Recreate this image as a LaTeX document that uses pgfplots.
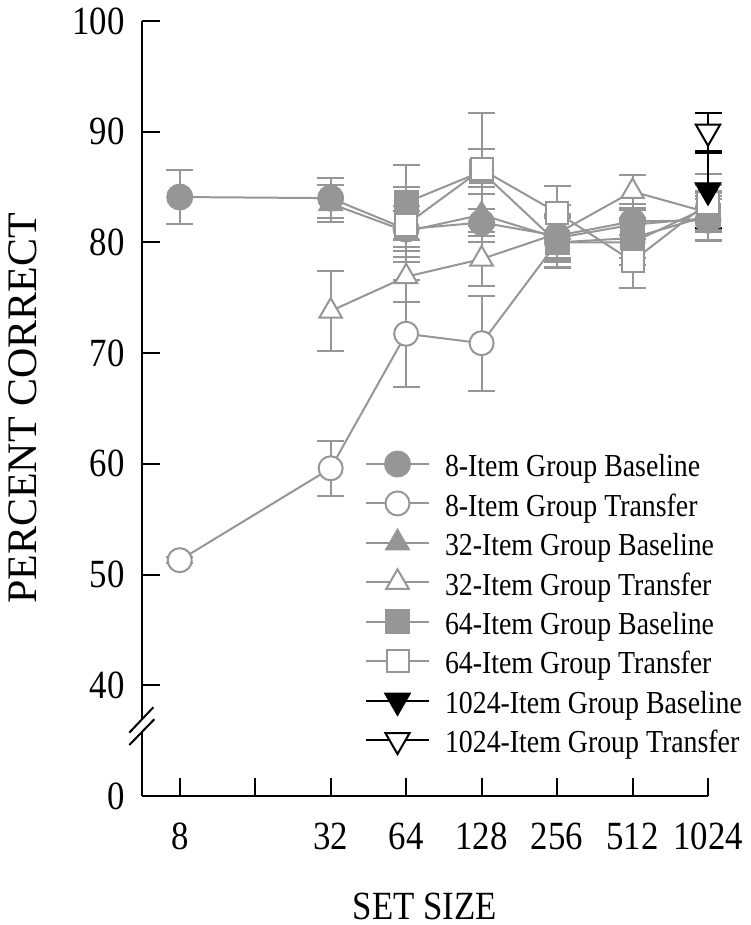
\documentclass[border=0pt]{standalone}
\usepackage{fontspec}
\setmainfont{Liberation Serif}[FakeStretch=0.87]
\newfontfamily\ylabfont{Liberation Serif}
\usepackage{pgfplots}
\pgfplotsset{compat=1.18}
\definecolor{mygray}{RGB}{150,150,150}

\pgfplotstableread{
x y e
3 84.1 2.4
5 84.0 1.8
6 81.2 1.6
7 81.8 1.2
8 80.6 2.0
9 81.9 1.6
10 82.0 1.9
}\tEBase
\pgfplotstableread{
x y e
3 51.3 0.3
5 59.6 2.5
6 71.75 4.85
7 70.9 4.3
8 80.0 2.2
9 80.0 2.0
10 83.2 2.0
}\tETrans
\pgfplotstableread{
x y e
5 83.5 1.7
6 81.0 2.3
7 82.5 2.5
8 80.4 2.0
9 81.6 1.3
10 82.2 2.0
}\tTBase
\pgfplotstableread{
x y e
5 73.8 3.6
6 76.9 2.3
7 78.5 2.4
8 80.8 2.6
9 84.6 1.5
10 82.7 1.8
}\tTTrans
\pgfplotstableread{
x y e
6 83.6 3.4
7 86.4 2.0
8 80.0 2.3
9 80.4 1.8
10 82.4 2.2
}\tSBase
\pgfplotstableread{
x y e
6 81.6 3.4
7 86.6 5.1
8 82.7 2.4
9 78.3 2.4
10 83.6 2.6
}\tSTrans
\pgfplotstableread{
x y e
10 84.7 3.4
}\tKBase
\pgfplotstableread{
x y e
10 90.0 1.7
}\tKTrans

\pgfplotsset{
  ebg/.style={error bars/y dir=both, error bars/y explicit,
    error bars/error bar style={line width=2pt, color=mygray, solid},
    error bars/error mark options={rotate=90, mark size=13.5pt, line width=2pt, color=mygray, solid}},
  ebk/.style={error bars/y dir=both, error bars/y explicit,
    error bars/error bar style={line width=2pt, color=black, solid},
    error bars/error mark options={rotate=90, mark size=13.5pt, line width=2pt, color=black, solid}},
  s8b/.style={color=mygray, line width=2pt, mark=*, mark size=13pt,
    mark options={solid, fill=mygray, draw=mygray, line width=1pt}},
  s8t/.style={color=mygray, line width=2pt, mark=*, mark size=12pt,
    mark options={solid, fill=white, draw=mygray, line width=2pt}},
  s32b/.style={color=mygray, line width=2pt, mark=triangle*, mark size=14pt,
    mark options={solid, fill=mygray, draw=mygray, line width=1pt}},
  s32t/.style={color=mygray, line width=2pt, mark=triangle*, mark size=13pt,
    mark options={solid, fill=white, draw=mygray, line width=2pt}},
  s64b/.style={color=mygray, line width=2pt, mark=square*, mark size=12pt,
    mark options={solid, fill=mygray, draw=mygray, line width=1pt}},
  s64t/.style={color=mygray, line width=2pt, mark=square*, mark size=11pt,
    mark options={solid, fill=white, draw=mygray, line width=2pt}},
  s1b/.style={color=black, line width=2pt, mark=triangle*, mark size=15pt,
    mark options={solid, rotate=180, fill=black, draw=black, line width=1pt}},
  s1t/.style={color=black, line width=2pt, mark=triangle*, mark size=14pt,
    mark options={solid, rotate=180, fill=white, draw=black, line width=2pt}},
}

\begin{document}
\begin{tikzpicture}
\useasboundingbox (0pt,0pt) rectangle (751pt,925pt);
\begin{axis}[
  at={(142pt,129pt)}, anchor=south west,
  scale only axis, width=566pt, height=775pt,
  xmin=2.5, xmax=10, ymin=30, ymax=100,
  clip=false,
  axis x line*=bottom, axis y line*=left,
  axis line style={-, line width=2.5pt, black},
  tick align=inside, major tick length=18pt,
  tick style={line width=2pt, black},
  xtick={3,4,5,6,7,8,9,10},
  xticklabels={8,,32,64,128,256,512,1024},
  ytick={30,40,50,60,70,80,90,100},
  yticklabels={0,40,50,60,70,80,90,100},
  xticklabel style={anchor=north, inner sep=0pt, yshift=-27pt, font=\fontsize{40}{48}\selectfont},
  yticklabel style={anchor=east, inner sep=0pt, xshift=-17pt, font=\fontsize{40}{48}\selectfont},
  xlabel={SET SIZE},
  ylabel={PERCENT CORRECT},
  xlabel style={at={(axis description cs:0.5,-0.1426)}, anchor=center, inner sep=0pt, font=\fontsize{40}{48}\selectfont},
  ylabel style={at={(axis description cs:-0.2112,0.5)}, anchor=center, inner sep=0pt, font=\ylabfont\fontsize{42}{50}\selectfont},
  legend cell align=left,
  legend image code/.code={\draw[mark repeat=2,mark phase=2,#1] plot coordinates {(0pt,0pt) (31.5pt,0pt) (63pt,0pt)};},
  legend style={at={(axis description cs:0.394,0.449)}, anchor=north west,
    draw=none, fill=none, inner sep=0pt, outer sep=0pt,
    row sep=7.43pt, column sep=15pt,
    font=\fontsize{32}{38}\selectfont,
    nodes={inner sep=0pt, text height=28.7pt, text depth=3.3pt}},
]
\addplot[s8t, forget plot, ebg] table[x=x, y=y, y error=e] {\tETrans};
\addplot[s32t, forget plot, ebg] table[x=x, y=y, y error=e] {\tTTrans};
\addplot[s32b, forget plot, ebg] table[x=x, y=y, y error=e] {\tTBase};
\addplot[s8b, forget plot, ebg] table[x=x, y=y, y error=e] {\tEBase};
\addplot[s64b, forget plot, ebg] table[x=x, y=y, y error=e] {\tSBase};
\addplot[s64t, forget plot, ebg] table[x=x, y=y, y error=e] {\tSTrans};
\addplot[s1b, forget plot, ebk] table[x=x, y=y, y error=e] {\tKBase};
\addplot[s1t, forget plot, ebk] table[x=x, y=y, y error=e] {\tKTrans};

\addlegendimage{s8b}\addlegendentry{8-Item Group Baseline}
\addlegendimage{s8t}\addlegendentry{8-Item Group Transfer}
\addlegendimage{s32b}\addlegendentry{32-Item Group Baseline}
\addlegendimage{s32t}\addlegendentry{32-Item Group Transfer}
\addlegendimage{s64b}\addlegendentry{64-Item Group Baseline}
\addlegendimage{s64t}\addlegendentry{64-Item Group Transfer}
\addlegendimage{s1b}\addlegendentry{1024-Item Group Baseline}
\addlegendimage{s1t}\addlegendentry{1024-Item Group Transfer}

\coordinate (g1) at (axis cs:2.5,36.93);
\coordinate (g2) at (axis cs:2.5,35.80);
\coordinate (l1a) at (axis cs:2.332,35.72);
\coordinate (l1b) at (axis cs:2.650,38.01);
\coordinate (l2a) at (axis cs:2.332,34.61);
\coordinate (l2b) at (axis cs:2.663,36.93);
\end{axis}
\draw[white, line width=6pt] (g1) -- (g2);
\draw[black, line width=2pt] (l1a) -- (l1b);
\draw[black, line width=2pt] (l2a) -- (l2b);
\end{tikzpicture}
\end{document}
